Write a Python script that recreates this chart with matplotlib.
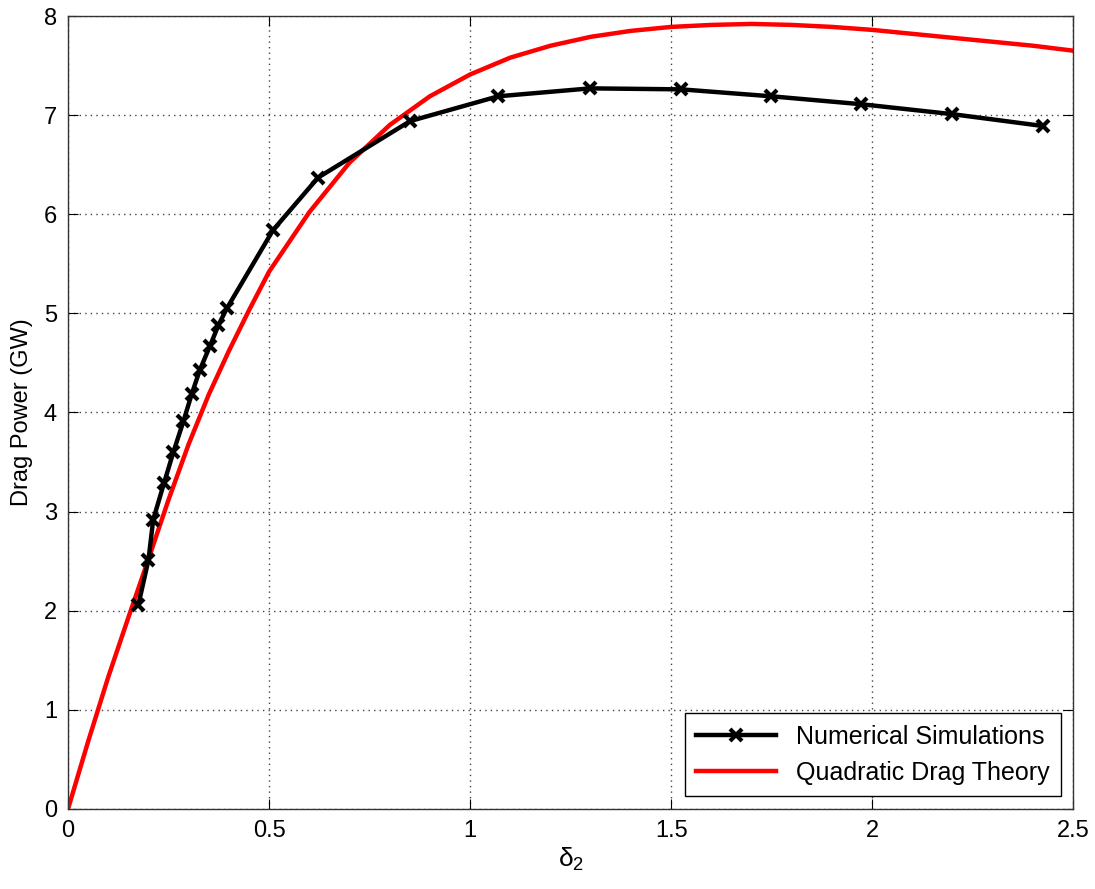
import numpy as np
import matplotlib as mpl
import matplotlib.pyplot as plt

mpl.rcParams['font.family'] = ['Liberation Sans', 'DejaVu Sans']
mpl.rcParams['mathtext.fontset'] = 'custom'
mpl.rcParams['mathtext.rm'] = 'Liberation Sans'
mpl.rcParams['mathtext.it'] = 'Liberation Sans'
mpl.rcParams['xtick.direction'] = 'in'
mpl.rcParams['ytick.direction'] = 'in'

# numerical simulations (delta_2, drag power in GW)
sim_delta = [0.175, 0.200, 0.212, 0.239, 0.262, 0.287, 0.308, 0.328, 0.353, 0.374, 0.395,
             0.510, 0.622, 0.851, 1.070, 1.299, 1.525, 1.749, 1.973, 2.199, 2.425]
sim_power = [2.06, 2.51, 2.92, 3.29, 3.60, 3.91, 4.19, 4.43, 4.67, 4.88, 5.05,
             5.84, 6.37, 6.94, 7.19, 7.27, 7.26, 7.19, 7.11, 7.01, 6.89]

# quadratic drag theory curve
theory_delta = [0, 0.05, 0.1, 0.15, 0.2, 0.25, 0.3, 0.35, 0.4, 0.45, 0.5, 0.6, 0.7, 0.8,
                0.9, 1.0, 1.1, 1.2, 1.3, 1.4, 1.5, 1.6, 1.7, 1.8, 1.9, 2.0, 2.1, 2.2,
                2.3, 2.4, 2.5]
theory_power = [0, 0.68, 1.33, 1.93, 2.52, 3.12, 3.68, 4.18, 4.62, 5.03, 5.42, 6.02, 6.52,
                6.90, 7.19, 7.41, 7.58, 7.70, 7.79, 7.85, 7.89, 7.91, 7.92, 7.91, 7.89,
                7.86, 7.82, 7.78, 7.74, 7.70, 7.65]

fig = plt.figure(figsize=(10.95, 8.89), dpi=100)
ax = fig.add_axes([0.0621, 0.090, 0.918, 0.892])

ax.plot(sim_delta, sim_power, color='k', linewidth=3.2, marker='x', markersize=8,
        markeredgewidth=3, label='Numerical Simulations', zorder=3)
ax.plot(theory_delta, theory_power, color='#ff0000', linewidth=3.2,
        label='Quadratic Drag Theory', zorder=2)

ax.set_xlim(0, 2.5)
ax.set_ylim(0, 8)
ax.set_xticks([0, 0.5, 1, 1.5, 2, 2.5])
ax.set_xticklabels(['0', '0.5', '1', '1.5', '2', '2.5'])
ax.set_yticks(range(0, 9))
ax.tick_params(labelsize=17, top=True, right=True, length=7, width=0.8, pad=8)
ax.grid(True, linestyle=(0, (1, 3)), color='#444444', linewidth=1)
for s in ax.spines.values():
    s.set_color('#333333')
    s.set_linewidth(1)

ax.set_xlabel(r'$\mathregular{\delta_2}$', fontsize=19, labelpad=3)
ax.set_ylabel('Drag Power (GW)', fontsize=17, labelpad=8)

leg = ax.legend(loc='lower right', fontsize=18, fancybox=False, framealpha=1,
                edgecolor='k', handlelength=3.2, borderaxespad=0.5,
                borderpad=0.45, labelspacing=0.5)
leg.get_frame().set_linewidth(1)

plt.savefig('out.png')
